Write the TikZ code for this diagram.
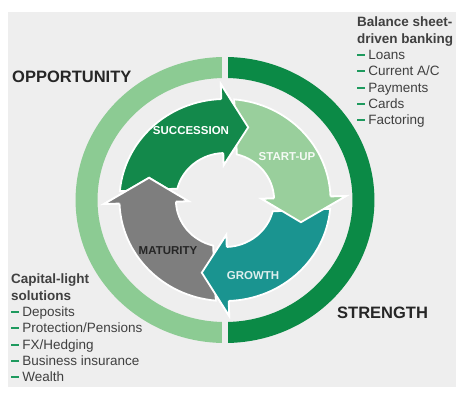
\documentclass[tikz,border=0pt]{standalone}
\usepackage{fontspec}
\setmainfont{Liberation Sans}
\usetikzlibrary{positioning}
\definecolor{bggray}{HTML}{EEEEEE}
\definecolor{ringlight}{HTML}{8CCB93}
\definecolor{ringdark}{HTML}{0B8A46}
\definecolor{succgreen}{HTML}{13894B}
\definecolor{startgreen}{HTML}{99CF9C}
\definecolor{growteal}{HTML}{1A9490}
\definecolor{matgray}{HTML}{7E7E7E}
\definecolor{dashgreen}{HTML}{1E9A5E}
\newcommand*{\RingOuter}{143}
\newcommand*{\RingInner}{122}
\newcommand*{\itm}{\textcolor{dashgreen}{\rule[0.27em]{0.55em}{0.13em}}~}
% one phase arrow, head at angle 0, pointing clockwise
\newcommand*{\phasebody}{(83:101) arc[start angle=83, end angle=0, radius=101] -- (0:116) -- (-19:76) -- (0:35) -- (0:47) arc[start angle=0, end angle=74, radius=47] -- cycle}
\newcommand*{\phasehead}{(0:47) -- (0:35) -- (-19:76) -- (0:116) -- (0:101)}
\tikzset{
  phase arrow/.style={draw=white, line width=1.8pt, line join=miter},
  phase label/.style={font=\fontsize{11.5}{13}\selectfont\bfseries, inner sep=0pt},
  side label/.style={font=\fontsize{16.5}{19}\selectfont\bfseries, text=black!85, anchor=west, inner sep=0pt},
  side list/.style={font=\fontsize{13.5}{16.3}\selectfont, align=left, anchor=north west, inner sep=0pt, text=black!75},
}
\begin{document}
\begin{tikzpicture}[x=1pt,y=1pt]
  \fill[white] (0,0) rectangle (456,382);
  \fill[bggray] (8,0) rectangle (456,375);

  \begin{scope}[shift={(225,187)}, xscale=1.045]
    % outer ring halves
    \begin{scope}
      \clip (-200,-200) rectangle (-2.9,200);
      \fill[ringlight, even odd rule] (0,0) circle[radius=\RingOuter] circle[radius=\RingInner];
    \end{scope}
    \begin{scope}
      \clip (2.9,-200) rectangle (200,200);
      \fill[ringdark, even odd rule] (0,0) circle[radius=\RingOuter] circle[radius=\RingInner];
    \end{scope}

    % cycle arrows
    \foreach \ang/\col in {92/succgreen, 2/startgreen, -88/growteal, 182/matgray}
      \filldraw[phase arrow, fill=\col, rotate=\ang] \phasebody;
    % heads over the next tails
    \foreach \ang/\col in {92/succgreen, 2/startgreen, -88/growteal, 182/matgray}
      \filldraw[phase arrow, fill=\col, rotate=\ang] \phasehead;
  \end{scope}

  \node[phase label, text=white] (succession) at (191,256) {SUCCESSION};
  \node[phase label, text=white!90!startgreen] (startup) at (287,230) {START-UP};
  \node[phase label, text=black!85] (maturity) at (168,136) {MATURITY};
  \node[phase label, text=white!85!growteal] (growth) at (253,111) {GROWTH};

  \node[side label] (opportunity) at (12,310) {OPPORTUNITY};
  \node[side label] (strength) at (337,74) {STRENGTH};

  \node[side list] (sheetlist) at (357,370) {\textbf{Balance sheet-}\\\textbf{driven banking}\\\itm Loans\\\itm Current A/C\\\itm Payments\\\itm Cards\\\itm Factoring};
  \node[side list] (capitallist) at (11,113) {\textbf{Capital-light}\\\textbf{solutions}\\\itm Deposits\\\itm Protection/Pensions\\\itm FX/Hedging\\\itm Business insurance\\\itm Wealth};
\end{tikzpicture}
\end{document}
